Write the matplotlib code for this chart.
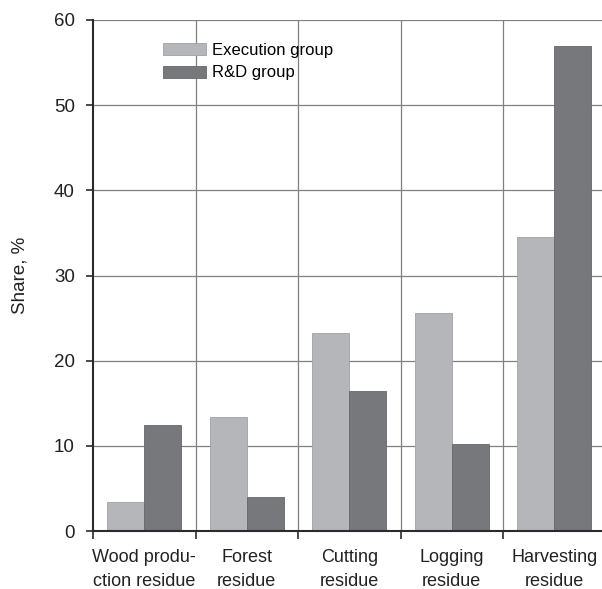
import numpy as np
import matplotlib.pyplot as plt
from matplotlib.patches import Patch

# data
categories = ['Wood produ-\nction residue', 'Forest\nresidue', 'Cutting\nresidue',
              'Logging\nresidue', 'Harvesting\nresidue']
execution = [3.4, 13.4, 23.3, 25.6, 34.5]
rnd = [12.4, 4.0, 16.4, 10.2, 57.0]
yticks = [0, 10, 20, 30, 40, 50, 60]

light = '#b5b6ba'
dark = '#77787c'
gridc = '#808080'
spinec = '#2b2b2b'

plt.rcParams['font.family'] = ['Liberation Sans', 'DejaVu Sans']

fig = plt.figure(figsize=(6.02, 5.89), dpi=100)
ax = fig.add_axes([93/602, 58/589, 512.5/602, 511/589])

x = np.arange(len(categories))
w = 0.36
ax.bar(x - w/2, execution, w, color=light, edgecolor='#a0a1a5', linewidth=0.6, zorder=3)
ax.bar(x + w/2, rnd, w, color=dark, edgecolor='#66676b', linewidth=0.6, zorder=3)

ax.set_xlim(-0.5, len(categories) - 0.5)
ax.set_ylim(0, 60)

# grid lines
ax.set_yticks(yticks)
for yv in yticks[1:]:
    ax.axhline(yv, color=gridc, lw=0.9, zorder=1)
bounds = np.arange(len(categories) + 1) - 0.5
for b in bounds[1:-1]:
    ax.axvline(b, color=gridc, lw=0.9, zorder=1)

ax.set_xticks(x)
ax.set_xticklabels(categories, fontsize=13, linespacing=1.55, color='#222222')
ax.set_xticks(bounds, minor=True)
ax.tick_params(axis='x', which='major', length=0, pad=13)
ax.tick_params(axis='x', which='minor', length=6, width=1.2, color=spinec, direction='out')
ax.tick_params(axis='y', length=5, width=1.2, color=spinec, labelsize=13.5, pad=8,
               labelcolor='#222222')

for s in ['top', 'right']:
    ax.spines[s].set_visible(False)
for s in ['left', 'bottom']:
    ax.spines[s].set_color(spinec)
    ax.spines[s].set_linewidth(1.5)
    ax.spines[s].set_zorder(4)

ax.set_ylabel('Share, %', fontsize=13.5, color='#222222', labelpad=18)

handles = [Patch(facecolor=light, edgecolor='#a0a1a5', lw=0.6, label='Execution group'),
           Patch(facecolor=dark, edgecolor='#66676b', lw=0.6, label='R&D group')]
ax.legend(handles=handles, loc='upper left', bbox_to_anchor=(158/602, 1 - 38/589),
          bbox_transform=fig.transFigure, frameon=False, fontsize=12,
          handlelength=2.6, handleheight=0.75, handletextpad=0.35, labelspacing=0.45,
          borderaxespad=0, borderpad=0.3)

fig.savefig('out.png', dpi=100)
